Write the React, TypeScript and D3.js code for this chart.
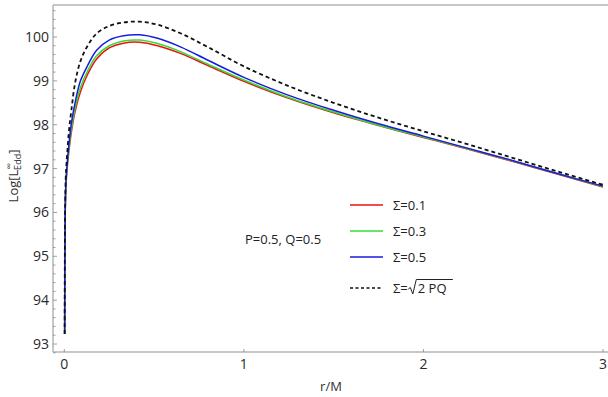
import React, { useEffect, useRef } from "react";
import * as d3 from "d3";

// r/M sample points
const rValues = [
  0.002, 0.003, 0.005, 0.008, 0.012, 0.018, 0.027, 0.04, 0.06, 0.09, 0.13,
  0.18, 0.25, 0.33, 0.42, 0.52, 0.65, 0.8, 1.0, 1.25, 1.5, 1.75, 2.0, 2.25,
  2.5, 2.75, 3.0,
];

// Log[L_Edd] for each Sigma
const sigma01 = [
  93.23, 94.8, 95.9, 96.5, 96.8, 97.1, 97.45, 97.85, 98.3, 98.75, 99.15, 99.5,
  99.75, 99.86, 99.88, 99.8, 99.62, 99.35, 98.99, 98.6, 98.27, 97.98, 97.71,
  97.44, 97.16, 96.87, 96.58,
];
const sigma03 = [
  93.23, 94.85, 95.95, 96.55, 96.85, 97.15, 97.5, 97.92, 98.38, 98.85, 99.23,
  99.57, 99.8, 99.91, 99.93, 99.85, 99.66, 99.38, 99.02, 98.62, 98.29, 97.99,
  97.72, 97.45, 97.17, 96.88, 96.59,
];
const sigma05 = [
  93.23, 94.9, 96.0, 96.6, 96.9, 97.2, 97.6, 98.05, 98.5, 99.0, 99.35, 99.7,
  99.93, 100.03, 100.05, 99.97, 99.77, 99.47, 99.08, 98.67, 98.33, 98.02,
  97.74, 97.46, 97.18, 96.88, 96.6,
];
const sigmaSqrt = [
  93.23, 95.0, 96.2, 96.8, 97.1, 97.45, 97.9, 98.35, 98.95, 99.45, 99.8,
  100.08, 100.25, 100.33, 100.35, 100.28, 100.08, 99.77, 99.33, 98.88, 98.5,
  98.16, 97.85, 97.55, 97.24, 96.93, 96.63,
];

const xTicks = [0, 1, 2, 3];
const yTicks = [93, 94, 95, 96, 97, 98, 99, 100];

const series = [
  { name: "Σ=0.1", values: sigma01, color: "#ee1111", dash: null },
  { name: "Σ=0.3", values: sigma03, color: "#33dd33", dash: null },
  { name: "Σ=0.5", values: sigma05, color: "#1a1ae0", dash: null },
  { name: "Σ=", values: sigmaSqrt, color: "#111111", dash: "4,3" },
];

const W = 608;
const H = 397;
const FONT = "'Open Sans', 'DejaVu Sans', sans-serif";

export default function App() {
  const ref = useRef<SVGSVGElement>(null);

  useEffect(() => {
    document.body.style.margin = "0";
    const svg = d3.select(ref.current);
    svg.selectAll("*").remove();

    const x = d3.scaleLinear().domain([0, 3]).range([64.3, 603]);
    const y = d3.scaleLinear().domain([93, 100]).range([344, 37]);
    const axisLeft = 53;
    const axisBottom = 352;
    const axisColor = "#b4b4b4";

    // frame: left, bottom, top
    svg.append("line").attr("x1", axisLeft).attr("x2", axisLeft)
      .attr("y1", 5).attr("y2", axisBottom)
      .attr("stroke", axisColor).attr("stroke-width", 1.5);
    svg.append("line").attr("x1", axisLeft).attr("x2", W)
      .attr("y1", axisBottom).attr("y2", axisBottom)
      .attr("stroke", axisColor).attr("stroke-width", 1.5);
    svg.append("line").attr("x1", axisLeft).attr("x2", W)
      .attr("y1", 5).attr("y2", 5)
      .attr("stroke", axisColor).attr("stroke-width", 1.5);

    // y ticks (minor every 0.2)
    const minor = d3.range(92.8, 100.7, 0.2).map((v) => +v.toFixed(1));
    svg.append("g").selectAll("line").data(minor).join("line")
      .attr("x1", axisLeft).attr("x2", (d) => (Number.isInteger(d) ? axisLeft + 4 : axisLeft + 2.5))
      .attr("y1", (d) => y(d)).attr("y2", (d) => y(d))
      .attr("stroke", "#888").attr("stroke-width", 0.8);

    svg.append("g").selectAll("text").data(yTicks).join("text")
      .attr("x", 49).attr("y", (d) => y(d)).attr("dy", "0.36em")
      .attr("text-anchor", "end").attr("font-family", FONT)
      .attr("font-size", 14).attr("fill", "#2a2a2a")
      .text((d) => d);

    // x ticks
    svg.append("g").selectAll("line").data(xTicks).join("line")
      .attr("x1", (d) => x(d)).attr("x2", (d) => x(d))
      .attr("y1", axisBottom).attr("y2", axisBottom - 3)
      .attr("stroke", "#888").attr("stroke-width", 0.8);
    svg.append("g").selectAll("text").data(xTicks).join("text")
      .attr("x", (d) => x(d)).attr("y", 369)
      .attr("text-anchor", "middle").attr("font-family", FONT)
      .attr("font-size", 14).attr("fill", "#2a2a2a")
      .text((d) => d);

    // axis titles
    svg.append("text").attr("x", 331).attr("y", 391)
      .attr("text-anchor", "middle").attr("font-family", FONT)
      .attr("font-size", 13).attr("fill", "#333").text("r/M");

    const yt = svg.append("text")
      .attr("transform", "translate(18,176) rotate(-90)")
      .attr("text-anchor", "middle").attr("font-family", FONT)
      .attr("font-size", 13).attr("fill", "#333");
    yt.append("tspan").text("Log[L");
    yt.append("tspan").attr("font-size", 9).attr("dx", 0.5).attr("dy", -6).text("∞");
    yt.append("tspan").attr("font-size", 9).attr("dx", -7).attr("dy", 9).text("Edd");
    yt.append("tspan").attr("dy", -3).text("]");

    // curves
    const line = d3.line<number>()
      .x((_, i) => x(rValues[i]))
      .y((d) => y(d))
      .curve(d3.curveCatmullRom.alpha(0.5));

    series.forEach((s) => {
      svg.append("path").datum(s.values)
        .attr("d", line)
        .attr("fill", "none")
        .attr("stroke", s.color)
        .attr("stroke-width", s.dash ? 1.8 : 1.5)
        .attr("stroke-dasharray", s.dash);
    });

    // annotation
    svg.append("text").attr("x", 245).attr("y", 244)
      .attr("font-family", FONT).attr("font-size", 13).attr("fill", "#222")
      .text("P=0.5, Q=0.5");

    // legend
    const legY = [205, 231, 257, 288];
    let lastWidth = 0;
    series.forEach((s, i) => {
      svg.append("line").attr("x1", 350).attr("x2", 383)
        .attr("y1", legY[i]).attr("y2", legY[i])
        .attr("stroke", s.color).attr("stroke-width", 1.5)
        .attr("stroke-dasharray", s.dash ? "3,2.5" : null);
      const t = svg.append("text").attr("x", 393).attr("y", legY[i]).attr("dy", "0.36em")
        .attr("font-family", FONT).attr("font-size", 13).attr("fill", "#222")
        .text(s.name);
      lastWidth = (t.node() as SVGTextElement).getComputedTextLength();
    });
    // sqrt(2 PQ)
    const sx = 393 + lastWidth;
    const sy = legY[3];
    svg.append("path")
      .attr("d", `M${sx + 0.5},${sy + 1} L${sx + 2.5},${sy - 0.5} L${sx + 5},${sy + 6} L${sx + 8.5},${sy - 8.5} L${sx + 45},${sy - 8.5}`)
      .attr("fill", "none").attr("stroke", "#222").attr("stroke-width", 1);
    svg.append("text").attr("x", sx + 10).attr("y", sy).attr("dy", "0.36em")
      .attr("font-family", FONT).attr("font-size", 13).attr("fill", "#222")
      .text("2 PQ");
  }, []);

  return (
    <svg
      ref={ref}
      width={W}
      height={H}
      style={{ position: "absolute", left: 0, top: 0, background: "#fff" }}
    />
  );
}
